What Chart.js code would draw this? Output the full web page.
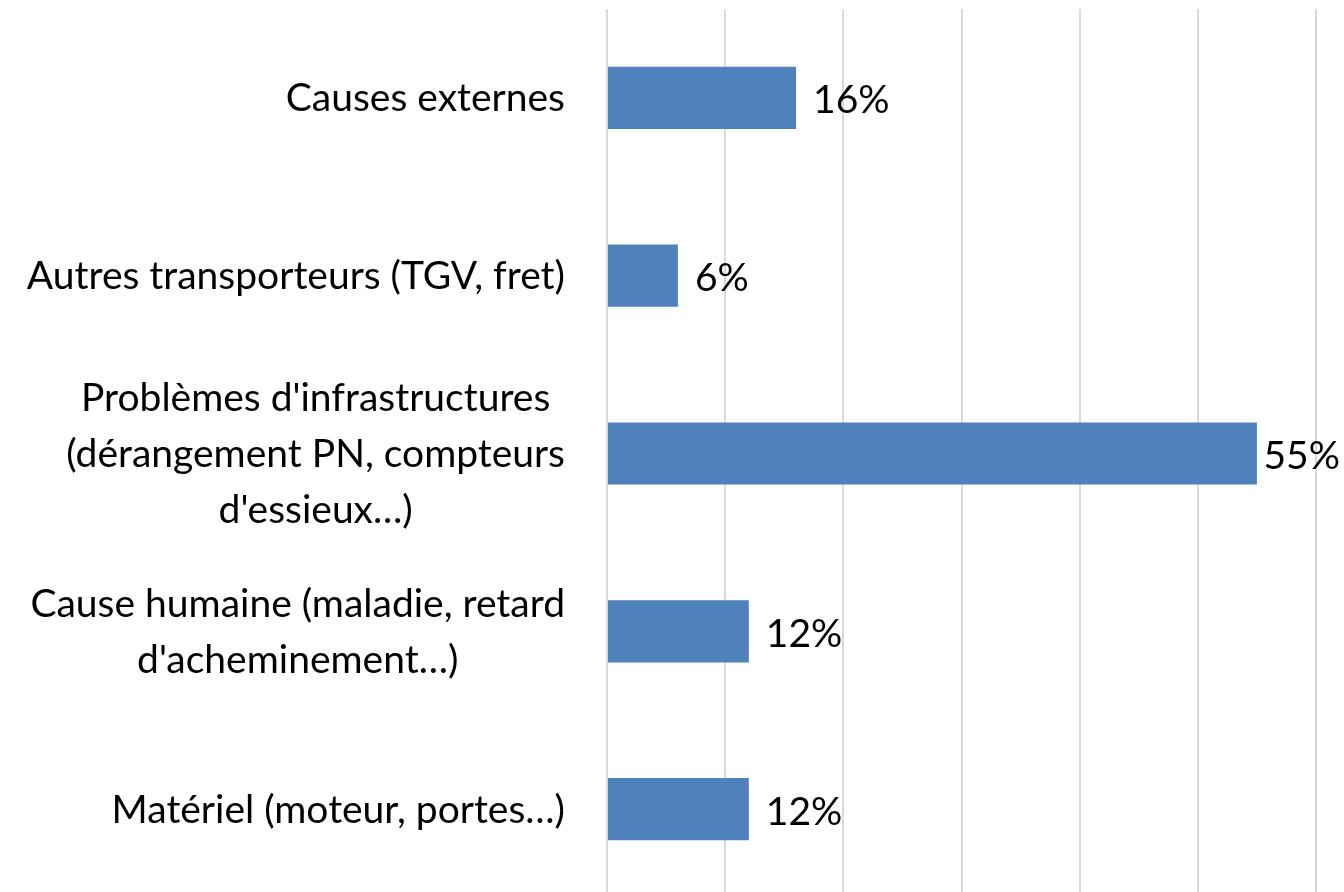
<!DOCTYPE html>
<html><head><meta charset="utf-8">
<script src="https://cdn.jsdelivr.net/npm/chart.js@4/dist/chart.umd.min.js"></script>
<style>html,body{margin:0;padding:0;background:#fff;overflow:hidden}#wrap{width:1344px;height:898px;position:relative}</style>
</head><body><div id="wrap"><canvas id="c"></canvas></div>
<script>
const categories = [
  ["Causes externes"],
  ["Autres transporteurs (TGV, fret)"],
  ["Problèmes d'infrastructures", "(dérangement PN, compteurs", "d'essieux…)"],
  ["Cause humaine (maladie, retard", "d'acheminement…)"],
  ["Matériel (moteur, portes…)"]
];
const values = [16, 6, 55, 12, 12];
const valueLabels = ["16%", "6%", "55%", "12%", "12%"];
const FONT = "Lato";
const FS = 39;
const LINE_H = 56;

const labelPlugin = {
  id: 'customLabels',
  afterDatasetsDraw(chart) {
    const ctx = chart.ctx;
    const meta = chart.getDatasetMeta(0);
    const yScale = chart.scales.y;
    ctx.save();
    ctx.font = FS + "px " + FONT;
    ctx.fillStyle = "#000";
    ctx.textBaseline = "middle";
    // value labels
    ctx.textAlign = "left";
    meta.data.forEach((bar, i) => {
      const w = ctx.measureText(valueLabels[i]).width;
      const x = Math.min(bar.x + 17, chart.width - w - 4);
      ctx.fillText(valueLabels[i], x, bar.y + 3);
    });
    // category labels: block right-aligned, lines centered within block
    ctx.textAlign = "center";
    const rightEdge = yScale.right - 42;
    categories.forEach((lines, i) => {
      const cy = yScale.getPixelForValue(i);
      const widest = Math.max(...lines.map(l => ctx.measureText(l).width));
      const cx = rightEdge - widest / 2;
      const y0 = cy - (lines.length - 1) * LINE_H / 2;
      lines.forEach((l, j) => ctx.fillText(l, cx, y0 + j * LINE_H + 1));
    });
    ctx.restore();
  }
};

new Chart(document.getElementById('c'), {
  type: 'bar',
  data: {
    labels: categories.map(l => l.join(' ')),
    datasets: [{ data: values, backgroundColor: '#4f81bd', categoryPercentage: 0.35, barPercentage: 1 }]
  },
  options: {
    indexAxis: 'y',
    responsive: true,
    maintainAspectRatio: false,
    animation: false,
    layout: { padding: { top: 9, right: 28, bottom: 0, left: 0 } },
    plugins: { legend: { display: false }, tooltip: { enabled: false } },
    scales: {
      x: {
        min: 0, max: 60,
        ticks: { display: false, stepSize: 10 },
        grid: { color: '#d9d9d9', lineWidth: 2, drawTicks: false },
        border: { display: false },
        afterFit(scale) { scale.height = 0; scale.paddingLeft = 0; scale.paddingRight = 0; }
      },
      y: {
        grid: { display: false, drawTicks: false },
        border: { display: false },
        ticks: { display: false },
        afterFit(scale) { scale.width = 607; scale.paddingTop = 0; scale.paddingBottom = 0; }
      }
    }
  },
  plugins: [labelPlugin]
});
</script></body></html>
